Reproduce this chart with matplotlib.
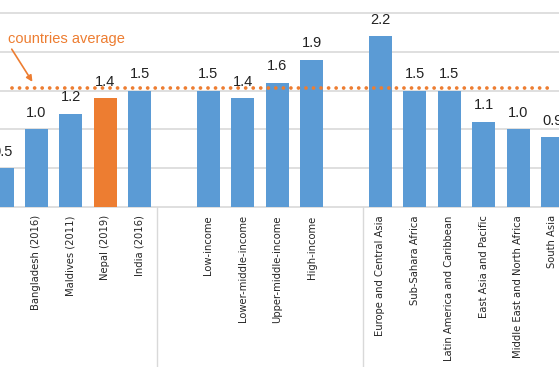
import matplotlib.pyplot as plt

# bar values by group
countries = ["", "Bangladesh (2016)", "Maldives (2011)", "Nepal (2019)", "India (2016)"]
country_vals = [0.5, 1.0, 1.2, 1.4, 1.5]
income = ["Low-income", "Lower-middle-income", "Upper-middle-income", "High-income"]
income_vals = [1.5, 1.4, 1.6, 1.9]
regions = ["Europe and Central Asia", "Sub-Sahara Africa", "Latin America and Caribbean",
           "East Asia and Pacific", "Middle East and North Africa", "South Asia"]
region_vals = [2.2, 1.5, 1.5, 1.1, 1.0, 0.9]
highlight = "Nepal (2019)"
average = 1.53

blue = "#5B9BD5"
orange = "#ED7D31"

# lay the groups out with one empty slot between them
labels, values, xs = [], [], []
pos = 0
for names, vals in [(countries, country_vals), (income, income_vals), (regions, region_vals)]:
    for n, v in zip(names, vals):
        labels.append(n)
        values.append(v)
        xs.append(pos)
        pos += 1
    pos += 1
separators = [xs[len(countries) - 1] + 0.5, xs[len(countries) + len(income) - 1] + 1.5]

fig = plt.figure(figsize=(5.59, 3.67), dpi=100)
ax = fig.add_axes([0, 0.436, 1, 0.564])

colors = [orange if l == highlight else blue for l in labels]
bars = ax.bar(xs, values, width=0.67, color=colors, zorder=3)

for x, v in zip(xs, values):
    ax.annotate(f"{v:.1f}", (x, v), xytext=(0, 9), textcoords="offset points",
                ha="center", va="baseline", fontsize=10.5, color="#222222",
                family="Liberation Sans")

ax.set_xlim(-0.06, 16.19)
ax.set_ylim(0, 2.67)
ax.set_yticks([0.5, 1.0, 1.5, 2.0, 2.5])
ax.yaxis.grid(True, color="#d9d9d9", linewidth=1.2, zorder=0)
ax.tick_params(axis="y", left=False, labelleft=False)
ax.set_xticks(xs)
ax.set_xticklabels(labels, rotation=90, fontsize=7.2, color="#262626", va="top")
ax.tick_params(axis="x", length=0, pad=6)
for s in ["top", "right", "left"]:
    ax.spines[s].set_visible(False)
ax.spines["bottom"].set_color("#d9d9d9")
ax.spines["bottom"].set_linewidth(1.2)

for sx in separators:
    ax.plot([sx, sx], [0, -0.78], transform=ax.get_xaxis_transform(),
            color="#d9d9d9", linewidth=1.0, clip_on=False)

# dotted average line
ax.plot([0.29, 15.87], [average, average], color=orange, linewidth=2.7,
        linestyle=(0, (0.01, 2.0)), dash_capstyle="round", zorder=4)

fig.text(0.014, 0.884, "countries average", color=orange, fontsize=10.5,
         family="Liberation Sans", va="baseline", ha="left")
fig.patches.append(plt.matplotlib.patches.FancyArrowPatch(
    (0.021, 0.866), (0.058, 0.777), transform=fig.transFigure,
    arrowstyle="-|>", mutation_scale=9, color=orange, linewidth=1.2,
    shrinkA=0, shrinkB=0))

fig.savefig("out.png", dpi=100)
